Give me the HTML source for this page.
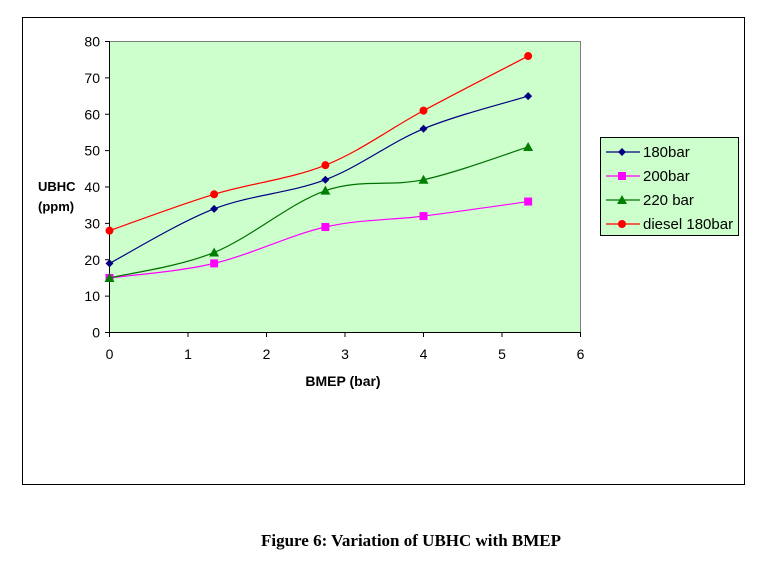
<!DOCTYPE html>
<html><head><meta charset="utf-8"><style>
body{margin:0;background:#fff;width:782px;height:558px;overflow:hidden;font-family:"Liberation Sans",Arial,sans-serif}
</style></head><body>
<svg id="s" width="782" height="558" xmlns="http://www.w3.org/2000/svg" font-family="Liberation Sans, Arial, sans-serif">
<rect x="22.5" y="17.5" width="722" height="467" fill="#fff" stroke="#000" stroke-width="1"/>
<rect x="109.5" y="41.5" width="471" height="291" fill="#ccffcc" stroke="#808080" stroke-width="1"/>
<line x1="109.5" y1="41" x2="109.5" y2="333" stroke="#000"/>
<line x1="109" y1="332.5" x2="581" y2="332.5" stroke="#000"/>
<g id="ticks" stroke="#000"></g>
<g id="lbl" font-size="14" fill="#000"></g>
<text x="38" y="191" font-size="13" font-weight="bold">UBHC</text>
<text x="38" y="211" font-size="13" font-weight="bold">(ppm)</text>
<text x="343" y="386" font-size="14" font-weight="bold" text-anchor="middle">BMEP (bar)</text>
<g id="series"></g>
<rect x="600.5" y="137.5" width="138" height="98" fill="#ccffcc" stroke="#000"/>
<g id="leg" font-size="15"></g>
<text x="411" y="546" font-family="Liberation Serif, serif" font-size="17" font-weight="bold" text-anchor="middle">Figure 6: Variation of UBHC with BMEP</text>
</svg>
<script>
var NS="http://www.w3.org/2000/svg";
function el(t,a,p,txt){var e=document.createElementNS(NS,t);for(var k in a)e.setAttribute(k,a[k]);if(txt!=null)e.textContent=txt;p.appendChild(e);return e;}
var X=function(v){return 109.5+v*78.5},Y=function(v){return 332.5-v*291/80};
var tk=document.getElementById('ticks'),lb=document.getElementById('lbl');
for(var i=0;i<=8;i++){var y=Y(i*10);el('line',{x1:105,y1:y,x2:110,y2:y},tk);el('text',{x:100,y:y+5,'text-anchor':'end'},lb,String(i*10));}
for(var i=0;i<=6;i++){var x=X(i);el('line',{x1:x,y1:332,x2:x,y2:337},tk);el('text',{x:x,y:359,'text-anchor':'middle'},lb,String(i));}
var xs=[0,1.333,2.75,4,5.333];
var S=[["#000080",[19,34,42,56,65],"d"],["#ff00ff",[15,19,29,32,36],"s"],["#007000",[15,22,39,42,51],"t"],["#ff0000",[28,38,46,61,76],"c"]];
var names=["180bar","200bar","220 bar","diesel 180bar"];
var sg=document.getElementById('series'),lg=document.getElementById('leg');
var mcol=["#000080","#ff00ff","#008000","#ff0000"];
function marker(m,x,y,c,p){
 if(m=="d")el('polygon',{points:(x)+","+(y-4)+" "+(x+4)+","+y+" "+x+","+(y+4)+" "+(x-4)+","+y,fill:c},p);
 else if(m=="s")el('rect',{x:x-4,y:y-4,width:8,height:8,fill:c},p);
 else if(m=="t")el('polygon',{points:x+","+(y-5)+" "+(x+5)+","+(y+4)+" "+(x-5)+","+(y+4),fill:c},p);
 else el('circle',{cx:x,cy:y,r:4,fill:c},p);
}
S.forEach(function(s,si){
 var P=xs.map(function(x,i){return [X(x),Y(s[1][i])]});
 var d="M"+P[0][0]+","+P[0][1];
 for(var i=0;i<P.length-1;i++){
  var p0=P[Math.max(0,i-1)],p1=P[i],p2=P[i+1],p3=P[Math.min(P.length-1,i+2)];
  var c1=[p1[0]+(p2[0]-p0[0])/6,p1[1]+(p2[1]-p0[1])/6],c2=[p2[0]-(p3[0]-p1[0])/6,p2[1]-(p3[1]-p1[1])/6];
  d+=" C"+c1+" "+c2+" "+p2;
 }
 el('path',{d:d,fill:"none",stroke:s[0],"stroke-width":1.2},sg);
 P.forEach(function(p){marker(s[2],p[0],p[1],mcol[si],sg)});
 var ly=152+si*24;
 el('line',{x1:606,y1:ly,x2:640,y2:ly,stroke:s[0],"stroke-width":1.2},lg);
 marker(s[2],622,ly,mcol[si],lg);
 el('text',{x:643,y:ly+5},lg,names[si]);
});
</script>
</body></html>
